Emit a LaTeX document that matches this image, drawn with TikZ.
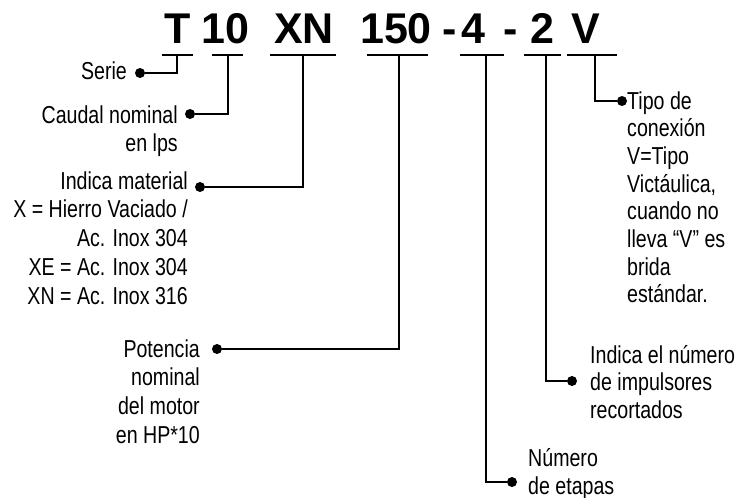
\documentclass[tikz,border=0pt]{standalone}
\usepackage{fontspec}
\setmainfont{Liberation Sans}[FakeStretch=0.8]
\newfontfamily\titlefont{Liberation Sans}
\begin{document}
\begin{tikzpicture}[x=1pt,y=-1pt,
  code/.style={font=\titlefont\bfseries\fontsize{43}{43}\selectfont, inner sep=0, anchor=base},
  uline/.style={fill=black, inner sep=0, minimum height=2.5pt},
  dot/.style={circle, fill=black, inner sep=0, minimum size=10pt},
  conn/.style={line width=2.4pt},
  lbl/.style={font=\fontsize{24.5}{28.8}\selectfont, inner sep=0},
  rlbl/.style={font=\fontsize{24.5}{27.7}\selectfont, inner sep=0}
]
\useasboundingbox (0,0) rectangle (753,498);
% code letters
\node[code] (cT)   at (178,43) {T};
\node[code] (c10)  at (225.5,43) {10};
\node[code] (cXN)  at (304,43) {XN};
\node[code] (c150) at (396,43) {150};
\node[code] (h1)   at (450,43) {-};
\node[code] (c4)   at (473,43) {4};
\node[code] (h2)   at (511,43) {-};
\node[code] (c2)   at (542,43) {2};
\node[code] (cV)   at (585.5,43) {V};
% underlines
\node[uline, minimum width=31pt] (uT)   at (177.5,55) {};
\node[uline, minimum width=31pt] (u10)  at (227.5,55) {};
\node[uline, minimum width=66pt] (uXN)  at (303,55) {};
\node[uline, minimum width=61pt] (u150) at (397.5,55) {};
\node[uline, minimum width=44pt] (u4)   at (482,55) {};
\node[uline, minimum width=37pt] (u2)   at (542.5,55) {};
\node[uline, minimum width=50pt] (uV)   at (592,55) {};
% attaching points
\coordinate (aT)   at (177,55);
\coordinate (a10)  at (228,55);
\coordinate (aXN)  at (303,55);
\coordinate (a150) at (399,55);
\coordinate (a4)   at (486,55);
\coordinate (a2)   at (546,55);
\coordinate (aV)   at (595,55);
% bullets
\node[dot] (dS) at (140,73) {};
\node[dot] (dC) at (190,114) {};
\node[dot] (dI) at (200,187) {};
\node[dot] (dP) at (217,349) {};
\node[dot] (dN) at (512,482) {};
\node[dot] (dR) at (572,381) {};
\node[dot] (dV) at (622,101) {};
% connectors
\draw[conn] (aT) |- (dS);
\draw[conn] (a10) |- (dC);
\draw[conn] (aXN) |- (dI);
\draw[conn] (a150) |- (dP);
\draw[conn] (a4) |- (dN);
\draw[conn] (a2) |- (dR);
\draw[conn] (aV) |- (dV);
% labels (anchored at the baseline of their last line)
\node[lbl, anchor=base east, align=right] (tS) at (127,79) {Serie};
\node[lbl, anchor=base east, align=right] (tC) at (178,151.8) {Caudal nominal\\en lps};
\node[lbl, anchor=base east, align=right] (tI) at (188,304.2) {Indica material\\X = Hierro Vaciado /\\Ac. Inox 304\\XE = Ac. Inox 304\\XN = Ac. Inox 316};
\node[lbl, anchor=base east, align=right] (tP) at (200,443.4) {Potencia\\nominal\\del motor\\en HP*10};
\node[rlbl, anchor=base west, align=left] (tN) at (528,494) {Número\\de etapas};
\node[rlbl, anchor=base west, align=left] (tR) at (590,418.4) {Indica el número\\de impulsores\\recortados};
\node[rlbl, anchor=base west, align=left] (tV) at (627,302.9) {Tipo de\\conexión\\V=Tipo\\Victáulica,\\cuando no\\lleva “V” es\\brida\\estándar.};
\end{tikzpicture}
\end{document}
